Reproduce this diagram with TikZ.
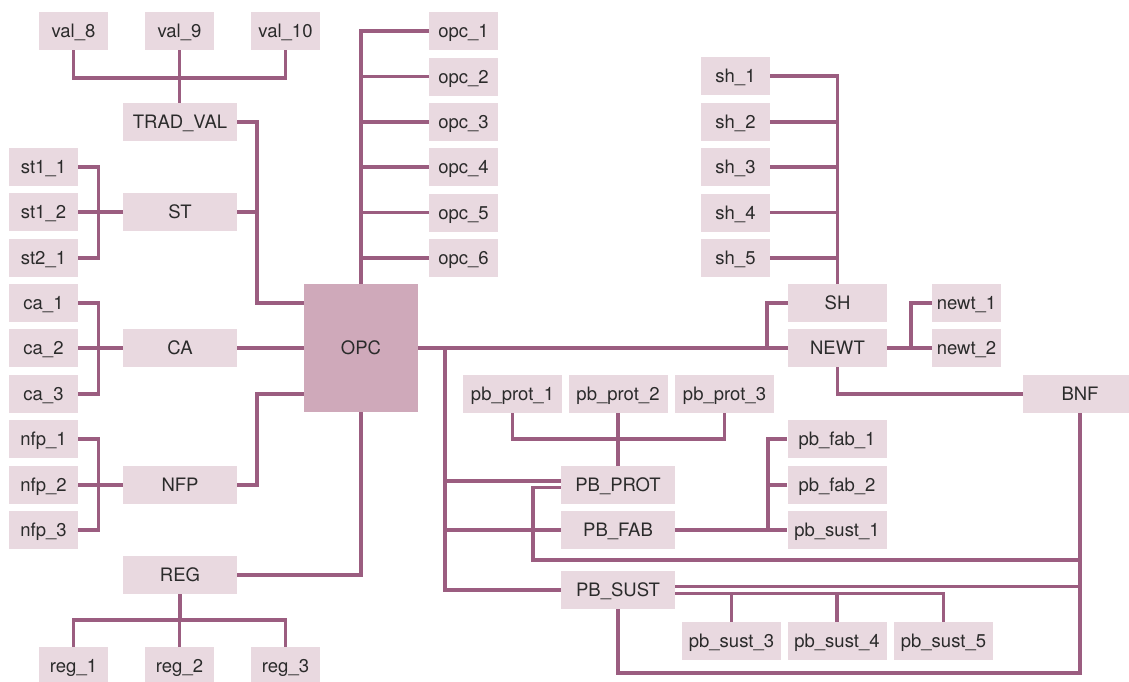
\documentclass[tikz,border=0pt]{standalone}
\usepackage{fontspec}
\setmainfont{TeX Gyre Heros}
\definecolor{linec}{HTML}{9B5D80}
\definecolor{boxc}{HTML}{E9D9E0}
\definecolor{opcc}{HTML}{CFA9BA}
\definecolor{textc}{HTML}{2B2B2B}
\tikzset{
  bx/.style={rectangle, fill=boxc, inner sep=0pt, minimum height=38pt, text=textc,
    font=\fontsize{18.5}{20}\selectfont, text height=13.3pt, text depth=0pt},
  wS/.style={bx, minimum width=69pt},
  wM/.style={bx, minimum width=99pt},
  wL/.style={bx, minimum width=114pt},
  link/.style={draw=linec, line width=3.2pt, line join=miter}
}
\begin{document}
\begin{tikzpicture}[x=1pt,y=-1pt]
\useasboundingbox (0,0) rectangle (1129,681);
% top-left group
\node[wS] (val8) at (73.5,31) {val\_8};
\node[wS] (val9) at (179.5,31) {val\_9};
\node[wS] (val10) at (285.5,31) {val\_10};
\node[wL] (TRAD) at (180,122) {TRAD\_VAL};
\node[wS] (st11) at (43.5,167) {st1\_1};
\node[wS] (st12) at (43.5,212) {st1\_2};
\node[wS] (st21) at (43.5,258) {st2\_1};
\node[wL] (ST) at (180,212) {ST};
\node[wS] (ca1) at (43.5,303) {ca\_1};
\node[wS] (ca2) at (43.5,348) {ca\_2};
\node[wS] (ca3) at (43.5,394) {ca\_3};
\node[wL] (CA) at (180,348) {CA};
\node[wS] (nfp1) at (43.5,439) {nfp\_1};
\node[wS] (nfp2) at (43.5,485) {nfp\_2};
\node[wS] (nfp3) at (43.5,530) {nfp\_3};
\node[wL] (NFP) at (180,485) {NFP};
\node[wL] (REG) at (180,575) {REG};
\node[wS] (reg1) at (73.5,666) {reg\_1};
\node[wS] (reg2) at (179.5,666) {reg\_2};
\node[wS] (reg3) at (285.5,666) {reg\_3};
% OPC
\node[wL, fill=opcc, minimum height=128pt] (OPC) at (361,348) {OPC};
\node[wS] (opc1) at (463.5,31) {opc\_1};
\node[wS] (opc2) at (463.5,76.5) {opc\_2};
\node[wS] (opc3) at (463.5,122) {opc\_3};
\node[wS] (opc4) at (463.5,167) {opc\_4};
\node[wS] (opc5) at (463.5,212.5) {opc\_5};
\node[wS] (opc6) at (463.5,258) {opc\_6};
% right top
\node[wS] (sh1) at (735.5,76) {sh\_1};
\node[wS] (sh2) at (735.5,122) {sh\_2};
\node[wS] (sh3) at (735.5,167) {sh\_3};
\node[wS] (sh4) at (735.5,212.5) {sh\_4};
\node[wS] (sh5) at (735.5,258) {sh\_5};
\node[wM] (SH) at (837.5,303) {SH};
\node[wM] (NEWT) at (837.5,348) {NEWT};
\node[wS] (newt1) at (966.5,303) {newt\_1};
\node[wS] (newt2) at (966.5,348) {newt\_2};
\node[wL] (BNF) at (1080,394) {BNF};
% pb group
\node[wM] (pbp1) at (512.5,394) {pb\_prot\_1};
\node[wM] (pbp2) at (618,394) {pb\_prot\_2};
\node[wM] (pbp3) at (724.5,394) {pb\_prot\_3};
\node[wL] (PBPROT) at (618,485) {PB\_PROT};
\node[wL] (PBFAB) at (618,530) {PB\_FAB};
\node[wL] (PBSUST) at (618,590) {PB\_SUST};
\node[wM] (pbf1) at (837,439) {pb\_fab\_1};
\node[wM] (pbf2) at (837,485) {pb\_fab\_2};
\node[wM] (pbs1) at (837,530) {pb\_sust\_1};
\node[wM] (pbs3) at (731.5,641) {pb\_sust\_3};
\node[wM] (pbs4) at (837,641) {pb\_sust\_4};
\node[wM] (pbs5) at (943.5,641) {pb\_sust\_5};

% ---- connectors ----
\coordinate (vb) at (179.5,78);
\draw[link] (val8.south) |- (vb) -| (val10.south);
\draw[link] (val9.south) -- (val9.south |- TRAD.north);
\coordinate (stb) at (98.7,212);
\draw[link] (st11.east) -| (stb) |- (st21.east);
\draw[link] (st12.east) -- (ST.west);
\coordinate (cab) at (98.7,348);
\draw[link] (ca1.east) -| (cab) |- (ca3.east);
\draw[link] (ca2.east) -- (CA.west);
\coordinate (nfb) at (98.7,485);
\draw[link] (nfp1.east) -| (nfb) |- (nfp3.east);
\draw[link] (nfp2.east) -- (NFP.west);
\coordinate (tj) at (257,303);
\draw[link] (TRAD.east) -| (tj) -- (tj -| OPC.west);
\draw[link] (ST.east) -- (ST.east -| tj);
\draw[link] (CA.east) -- (OPC.west);
\coordinate (nj) at (257,394);
\draw[link] (NFP.east) -| (nj) -- (nj -| OPC.west);
\draw[link] (REG.east) -| (OPC.south);
\coordinate (rb) at (179.5,620);
\draw[link] (REG.south) -- (REG.south |- rb);
\draw[link] (reg1.north) |- (rb) -| (reg3.north);
\draw[link] (reg2.north) -- (reg2.north |- rb);
\draw[link] (OPC.north) |- (opc1.west);
\foreach \i in {2,...,6} \draw[link] (opc\i.west) -- (opc\i.west -| OPC.north);
\draw[link] (OPC.east) -- (NEWT.west);
\coordinate (shj) at (767,348);
\draw[link] (shj) |- (SH.west);
\draw[link] (sh1.east) -| (SH.north);
\foreach \i in {2,...,5} \draw[link] (sh\i.east) -- (sh\i.east -| SH.north);
\coordinate (nwj) at (911,348);
\draw[link] (NEWT.east) -- (newt2.west);
\draw[link] (nwj) |- (newt1.west);
\draw[link] (NEWT.south) |- (BNF.west);
% pb trunk
\coordinate (pbt) at (445,348);
\draw[link] (pbt) |- (PBSUST.west);
\coordinate (pp1) at ([yshift=4pt]PBPROT.west);
\draw[link] (pp1) -- (pp1 -| pbt);
\draw[link] (PBFAB.west) -- (PBFAB.west -| pbt);
\coordinate (pp2) at ([yshift=-2.5pt]PBPROT.west);
\coordinate (bxc) at (533,560);
\draw[link] (pp2) -| (bxc) -- (bxc -| BNF.south);
\coordinate (bb) at (1080,673);
\draw[link] (BNF.south) -- (bb) -| (PBSUST.south);
\coordinate (ps1) at ([yshift=3.2pt]PBSUST.east);
\draw[link] (ps1) -- (ps1 -| BNF.south);
\coordinate (ps2) at ([yshift=-3.8pt]PBSUST.east);
\draw[link] (ps2) -| (pbs5.north);
\draw[link] (pbs3.north) -- (pbs3.north |- ps2);
\draw[link] (pbs4.north) -- (pbs4.north |- ps2);
\coordinate (ppb) at (618,439);
\draw[link] (pbp1.south) |- (ppb) -| (pbp3.south);
\draw[link] (pbp2.south) -- (PBPROT.north);
\coordinate (fj) at (768,530);
\draw[link] (PBFAB.east) -- (pbs1.west);
\draw[link] (fj) |- (pbf1.west);
\draw[link] (pbf2.west) -- (pbf2.west -| fj);
\end{tikzpicture}
\end{document}
